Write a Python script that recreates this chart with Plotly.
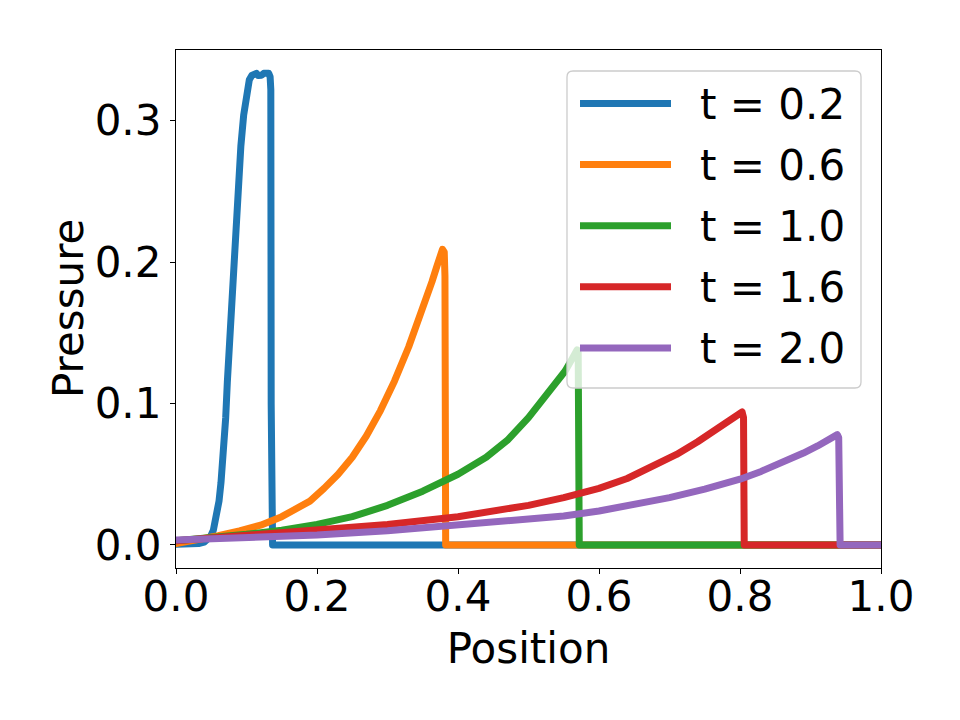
import plotly.graph_objects as go

# ---- data ----
series_names = ["t = 0.2", "t = 0.6", "t = 1.0", "t = 1.6", "t = 2.0"]
series_colors = ["#1f77b4", "#ff7f0e", "#2ca02c", "#d62728", "#9467bd"]

x_t02 = [0.000, 0.020, 0.032, 0.040, 0.045, 0.049, 0.053, 0.0577, 0.061, 0.0638,
         0.066, 0.0677, 0.0705, 0.0728, 0.0755, 0.078, 0.0805, 0.0827, 0.0855, 0.0884,
         0.092, 0.096, 0.0985, 0.1010, 0.1040, 0.1075, 0.1110, 0.1140, 0.1165, 0.1190,
         0.1215, 0.1245, 0.1280, 0.1315, 0.1335, 0.1345, 0.1350, 0.1356, 0.1370, 1.0]
y_t02 = [0.0005, 0.0006, 0.0010, 0.0020, 0.0035, 0.0060, 0.0105, 0.020, 0.031, 0.044,
         0.056, 0.067, 0.090, 0.115, 0.139, 0.162, 0.186, 0.209, 0.233, 0.257,
         0.282, 0.304, 0.315, 0.324, 0.329, 0.332, 0.3335, 0.3335, 0.332, 0.3315,
         0.3322, 0.3335, 0.3340, 0.3335, 0.331, 0.322, 0.100, 0.002, 0.0, 0.0]

x_t06 = [0.00, 0.03, 0.06, 0.09, 0.12, 0.15, 0.17, 0.19, 0.21, 0.23, 0.25, 0.27,
         0.29, 0.31, 0.33, 0.345, 0.355, 0.363, 0.370, 0.375, 0.378, 0.3805, 0.3815,
         0.3825, 1.0]
y_t06 = [0.001, 0.0035, 0.0065, 0.010, 0.014, 0.020, 0.025, 0.031, 0.040, 0.050, 0.062,
         0.077, 0.095, 0.116, 0.140, 0.160, 0.174, 0.186, 0.197, 0.205, 0.209, 0.207,
         0.190, 0.0, 0.0]

x_t10 = [0.00, 0.05, 0.10, 0.15, 0.20, 0.25, 0.30, 0.35, 0.40, 0.44, 0.47, 0.50,
         0.52, 0.54, 0.552, 0.560, 0.566, 0.569, 0.5705, 0.572, 1.0]
y_t10 = [0.003, 0.005, 0.0075, 0.0105, 0.0145, 0.020, 0.028, 0.038, 0.050, 0.062, 0.074,
         0.090, 0.102, 0.115, 0.123, 0.130, 0.136, 0.138, 0.136, 0.0, 0.0]

x_t16 = [0.00, 0.10, 0.20, 0.30, 0.40, 0.45, 0.50, 0.55, 0.60, 0.64, 0.68, 0.71,
         0.74, 0.765, 0.785, 0.798, 0.803, 0.805, 0.806, 1.0]
y_t16 = [0.003, 0.0065, 0.010, 0.0145, 0.0200, 0.0237, 0.0280, 0.0335, 0.0400, 0.0470,
         0.0560, 0.0640, 0.0730, 0.0810, 0.0880, 0.0930, 0.0940, 0.0900, 0.0, 0.0]

x_t20 = [0.00, 0.10, 0.20, 0.30, 0.40, 0.45, 0.50, 0.55, 0.60, 0.65, 0.70, 0.75,
         0.80, 0.83, 0.86, 0.89, 0.91, 0.925, 0.935, 0.938, 0.940, 0.942, 1.0]
y_t20 = [0.0035, 0.005, 0.007, 0.010, 0.0138, 0.0157, 0.0178, 0.0205, 0.0240, 0.0283,
         0.0335, 0.0395, 0.0465, 0.0520, 0.0580, 0.0650, 0.0700, 0.0740, 0.0770, 0.0780,
         0.0760, 0.0, 0.0]

xs = [x_t02, x_t06, x_t10, x_t16, x_t20]
ys = [y_t02, y_t06, y_t10, y_t16, y_t20]

x_ticks = [0.0, 0.2, 0.4, 0.6, 0.8, 1.0]
x_tick_labels = ["0.0", "0.2", "0.4", "0.6", "0.8", "1.0"]
y_ticks = [0.0, 0.1, 0.2, 0.3]
y_tick_labels = ["0.0", "0.1", "0.2", "0.3"]

FONT = "DejaVu Sans"
FS = 42
LW = 7

fig = go.Figure()
for name, color, x, y in zip(series_names, series_colors, xs, ys):
    fig.add_trace(go.Scatter(x=x, y=y, mode="lines", name=name,
                             line=dict(color=color, width=LW, shape="linear"),
                             showlegend=False))

# page offset (body margin) and plot area in page pixels
OFF = 8
L, R, T, B = 176, 881, 50, 568
W_PLOT, H_PLOT = R - L, B - T


def px_x(px):
    return (px - L) / W_PLOT


def px_y(py):
    return (B - py) / H_PLOT


# custom legend drawn in matplotlib style
x0p, y0p, x1p, y1p, rad = 567, 71, 861, 388, 6
pts = [("M", x0p + rad, y0p), ("L", x1p - rad, y0p), ("Q", x1p, y0p, x1p, y0p + rad),
       ("L", x1p, y1p - rad), ("Q", x1p, y1p, x1p - rad, y1p), ("L", x0p + rad, y1p),
       ("Q", x0p, y1p, x0p, y1p - rad), ("L", x0p, y0p + rad), ("Q", x0p, y0p, x0p + rad, y0p)]
segs = []
for p in pts:
    cmd, coords = p[0], p[1:]
    cs = []
    for i in range(0, len(coords), 2):
        cs.append(f"{px_x(coords[i]):.5f},{px_y(coords[i + 1]):.5f}")
    segs.append(cmd + " " + " ".join(cs))
path = " ".join(segs) + " Z"

shapes = [dict(type="path", xref="paper", yref="paper", path=path,
               fillcolor="rgba(255,255,255,0.8)", line=dict(color="#cccccc", width=1.3),
               layer="above")]
annotations = []
row0, row_gap = 103.5, 61.1
for i, (name, color) in enumerate(zip(series_names, series_colors)):
    ry = row0 + i * row_gap
    shapes.append(dict(type="line", xref="paper", yref="paper",
                       x0=px_x(580), x1=px_x(671), y0=px_y(ry), y1=px_y(ry),
                       line=dict(color=color, width=LW), layer="above"))
    annotations.append(dict(xref="paper", yref="paper", x=px_x(698), y=px_y(ry + 1),
                            xanchor="left", yanchor="middle", text=name, showarrow=False,
                            font=dict(family=FONT, size=FS, color="black")))

# y-axis title
annotations.append(dict(xref="paper", yref="paper", x=px_x(68), y=0.5, xanchor="center",
                        yanchor="middle", text="Pressure", textangle=-90, showarrow=False,
                        font=dict(family=FONT, size=FS, color="black")))

axis_common = dict(showgrid=False, zeroline=False, showline=True, linecolor="black",
                   linewidth=1.3, mirror=True, ticks="outside", ticklen=5, tickwidth=1.3,
                   tickcolor="black", tickfont=dict(family=FONT, size=FS, color="black"))

fig.update_layout(
    width=960, height=720,
    margin=dict(l=L - OFF, r=960 - R + OFF, t=T - OFF, b=720 - B + OFF, pad=0),
    paper_bgcolor="white", plot_bgcolor="white",
    font=dict(family=FONT, size=FS, color="black"),
    xaxis=dict(range=[0, 1], tickvals=x_ticks, ticktext=x_tick_labels,
               ticklabelstandoff=-14,
               title=dict(text="Position", font=dict(family=FONT, size=FS), standoff=14),
               **axis_common),
    yaxis=dict(range=[-0.0163, 0.350], tickvals=y_ticks, ticktext=y_tick_labels,
               **axis_common),
    shapes=shapes, annotations=annotations,
)

post = ("document.querySelectorAll('.scatterlayer path.js-line').forEach(function(p){"
        "p.style.strokeLinejoin='round';p.style.strokeLinecap='round';});")
fig.write_html("out.html", post_script=post)
